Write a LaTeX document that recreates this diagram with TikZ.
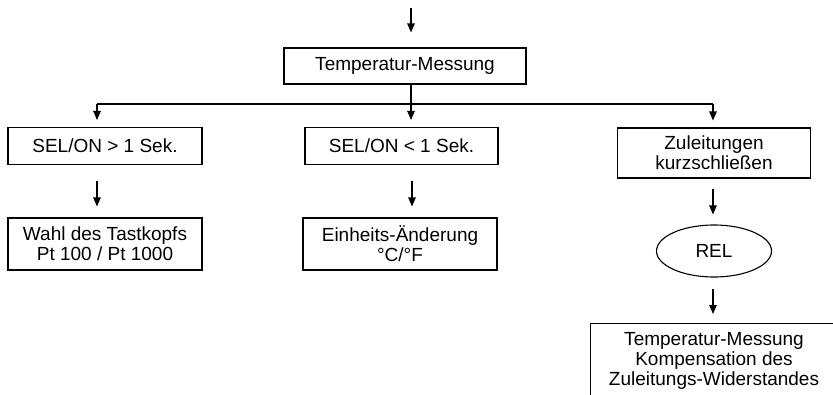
\documentclass[tikz,border=0pt]{standalone}
\usepackage{fontspec}
\setmainfont{Liberation Sans}
\usetikzlibrary{arrows.meta,shapes.geometric}
\begin{document}
\begin{tikzpicture}[x=1pt,y=-1pt,
  every node/.style={font=\fontsize{19}{20}\selectfont},
  flowbox/.style={draw, line width=1.1pt, rectangle, inner sep=0pt, align=center},
  arr/.style={line width=1.1pt, -{Triangle[length=9pt,width=7.5pt]}},
  ln/.style={line width=1.1pt}]
\useasboundingbox (0,0) rectangle (833,394);
\clip (0,0) rectangle (833,394);
\coordinate (in) at (411,8);
\node[flowbox, minimum width=242, minimum height=36] (tm) at (405,66) {Temperatur-Messung};
\coordinate (j) at (411,104);
\coordinate (jl) at (97,104);
\coordinate (jr) at (713,104);
\node[flowbox, minimum width=194, minimum height=37] (sel1) at (105,146) {SEL/ON > 1 Sek.};
\node[flowbox, minimum width=193, minimum height=37] (sel2) at (401.5,146) {SEL/ON < 1 Sek.};
\node[flowbox, minimum width=193, minimum height=50] (zul) at (714,153) {Zuleitungen\\kurzschließen};
\node[flowbox, minimum width=194, minimum height=52] (wahl) at (105,244) {Wahl des Tastkopfs\\Pt 100 / Pt 1000};
\node[flowbox, minimum width=194, minimum height=52] (ein) at (400,244) {Einheits-Änderung\\°C/°F};
\node[draw, line width=1.1pt, ellipse, minimum width=115, minimum height=52, inner sep=0pt] (rel) at (714,251) {REL};
\node[flowbox, minimum width=260, minimum height=110, anchor=north west] (last) at (590,323) {};
\node[align=center] (lasttxt) at (714,361) {Temperatur-Messung\\Kompensation des\\Zuleitungs-Widerstandes};
\draw[arr, shorten >=15pt] (in) -- (tm.north -| in);
\draw[arr, shorten >=7pt] (tm.south -| j) -- (sel2.north -| j);
\draw[ln] (jl) -- (jr);
\draw[arr, shorten >=7pt] (jl) -- (sel1.north -| jl);
\draw[arr, shorten >=7pt] (jr) -- (zul.north -| jr);
\draw[arr, shorten <=16pt, shorten >=11pt] (sel1.south -| jl) -- (wahl.north -| jl);
\draw[arr, shorten <=16pt, shorten >=11pt] (sel2.south -| 412,0) -- (ein.north -| 412,0);
\draw[arr, shorten <=10pt, shorten >=10pt] (zul.south -| jr) -- (rel.north -| jr);
\draw[arr, shorten <=11pt, shorten >=9pt] (rel.south -| jr) -- (last.north -| jr);
\end{tikzpicture}
\end{document}
